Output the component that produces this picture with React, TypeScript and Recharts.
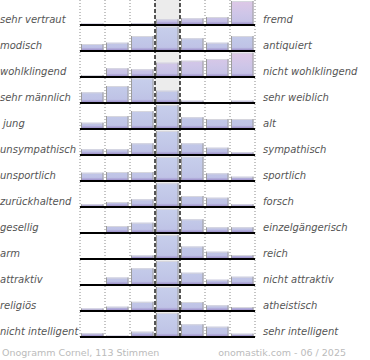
import { BarChart, Bar, XAxis, YAxis, ReferenceLine, ReferenceArea } from "recharts";

// semantic differential: left pole, right pole, 7 bins per row (bar heights, max ~25)
const leftLabels = [
  "sehr vertraut",
  "modisch",
  "wohlklingend",
  "sehr männlich",
  "jung",
  "unsympathisch",
  "unsportlich",
  "zurückhaltend",
  "gesellig",
  "arm",
  "attraktiv",
  "religiös",
  "nicht intelligent",
];

const rightLabels = [
  "fremd",
  "antiquiert",
  "nicht wohlklingend",
  "sehr weiblich",
  "alt",
  "sympathisch",
  "sportlich",
  "forsch",
  "einzelgängerisch",
  "reich",
  "nicht attraktiv",
  "atheistisch",
  "sehr intelligent",
];

const binCenters = [0.5, 1.5, 2.5, 3.5, 4.5, 5.5, 6.5];

const vertraut = [1.3, 0, 1.7, 5.7, 6.7, 8, 24];
const modisch = [7, 8.3, 15, 24.3, 12.7, 8.3, 15];
const wohlklingend = [2, 8.7, 7.7, 14.3, 16.3, 18, 24.3];
const maennlich = [10.7, 17, 24.7, 12.3, 2.3, 0, 2.3];
const jung = [6.3, 13, 18, 24, 11.7, 10, 10];
const unsympathisch = [5.7, 5.7, 11.7, 24, 11.7, 7.3, 2.7];
const unsportlich = [8.3, 9, 9, 24, 24.3, 7.7, 4.3];
const zurueckhaltend = [2.7, 5, 7.7, 23.7, 11, 9.3, 2.7];
const gesellig = [0, 7, 10.3, 24, 13.7, 5.7, 5.7];
const arm = [1, 1, 3.5, 24, 12.5, 7.3, 4];
const attraktiv = [0, 7.5, 16.7, 24, 12.3, 5.3, 8.3];
const religioes = [2.5, 4.3, 9.2, 24, 9, 5.7, 4];
const intelligent = [3.7, 1.3, 5.3, 24, 12.7, 10.3, 3.3];

const rows = [
  vertraut,
  modisch,
  wohlklingend,
  maennlich,
  jung,
  unsympathisch,
  unsportlich,
  zurueckhaltend,
  gesellig,
  arm,
  attraktiv,
  religioes,
  intelligent,
];

const pinkRows = [0, 2];

const ROW = 26;
const labelFont = { fontFamily: "'DejaVu Sans', sans-serif", fontSize: 10, fontStyle: "italic", color: "#555" };

function HistBar(props: any) {
  const { x, y, width, height, fill } = props;
  if (!height || height <= 0) return null;
  return (
    <g>
      <rect x={x} y={y} width={width} height={height} fill={fill} />
      <line x1={x} y1={y + 0.5} x2={x + width} y2={y + 0.5} stroke="#d6d6de" />
      <line x1={x + 0.5} y1={y} x2={x + 0.5} y2={y + height} stroke="#9c9c9c" />
      <line x1={x + width - 0.5} y1={y} x2={x + width - 0.5} y2={y + height} stroke="#9c9c9c" />
    </g>
  );
}

function Row({ values, index }: { values: number[]; index: number }) {
  const data = binCenters.map((c, i) => ({ x: c, v: values[i] }));
  const gid = `hist-grad-${index}`;
  const pink = pinkRows.includes(index);
  return (
    <div style={{ position: "absolute", left: 79, top: index * ROW - 1, zIndex: 50 - index }}>
      <BarChart width={178} height={28} data={data} margin={{ top: 0, right: 2, left: 1, bottom: 2 }}>
        <defs>
          <linearGradient id={gid} x1="0" y1="0" x2="0" y2="26" gradientUnits="userSpaceOnUse">
            <stop offset="0" stopColor={pink ? "#e0c8e6" : "#c8cfec"} />
            <stop offset="0.55" stopColor={pink ? "#cfc6e8" : "#c2c8e8"} />
            <stop offset="0.86" stopColor={pink ? "#c6c2e6" : "#bfc3e6"} />
            <stop offset="0.93" stopColor="#aaa0d4" />
            <stop offset="1" stopColor="#8f82c0" />
          </linearGradient>
        </defs>
        <XAxis type="number" dataKey="x" domain={[0, 7]} hide />
        <YAxis type="number" domain={[0, 26]} hide />
        <ReferenceArea x1={3} x2={4} y1={0} y2={26} fill="#ececec" fillOpacity={1} stroke="none" zIndex={-10} />
        {[0, 1, 2, 5, 6, 7].map((t) => (
          <ReferenceLine key={t} x={t} stroke="#8a8a8a" strokeDasharray="1 2" zIndex={-5} />
        ))}
        <Bar dataKey="v" barSize={25} fill={`url(#${gid})`} shape={HistBar} isAnimationActive={false} />
        <ReferenceLine x={3} stroke="#111" strokeWidth={1.4} strokeDasharray="4 2" />
        <ReferenceLine x={4} stroke="#111" strokeWidth={1.4} strokeDasharray="4 2" />
        <ReferenceLine y={0} stroke="#000" strokeWidth={2} />
      </BarChart>
    </div>
  );
}

export default function App() {
  return (
    <div style={{ position: "absolute", left: 0, top: 0, width: 370, height: 360, background: "#fff", overflow: "hidden" }}>
      {rows.map((vals, i) => (
        <Row key={i} values={vals} index={i} />
      ))}
      {leftLabels.map((l, i) => (
        <div
          key={l}
          style={{ ...labelFont, position: "absolute", left: i === 4 ? 3 : 0, top: i * ROW + 13.5, lineHeight: "12px", whiteSpace: "nowrap" }}
        >
          {l}
        </div>
      ))}
      {rightLabels.map((l, i) => (
        <div
          key={l}
          style={{ ...labelFont, position: "absolute", left: 263, top: i * ROW + 13.5, lineHeight: "12px", whiteSpace: "nowrap" }}
        >
          {l}
        </div>
      ))}
      <div
        style={{ position: "absolute", left: 2, top: 347, fontFamily: "'DejaVu Sans', sans-serif", fontSize: 9.5, color: "#bbb", lineHeight: "12px", whiteSpace: "nowrap" }}
      >
        Onogramm Cornel, 113 Stimmen
      </div>
      <div
        style={{ position: "absolute", right: 24, top: 347, fontFamily: "'DejaVu Sans', sans-serif", fontSize: 9.5, color: "#bbb", lineHeight: "12px", whiteSpace: "nowrap" }}
      >
        onomastik.com - 06 / 2025
      </div>
    </div>
  );
}
